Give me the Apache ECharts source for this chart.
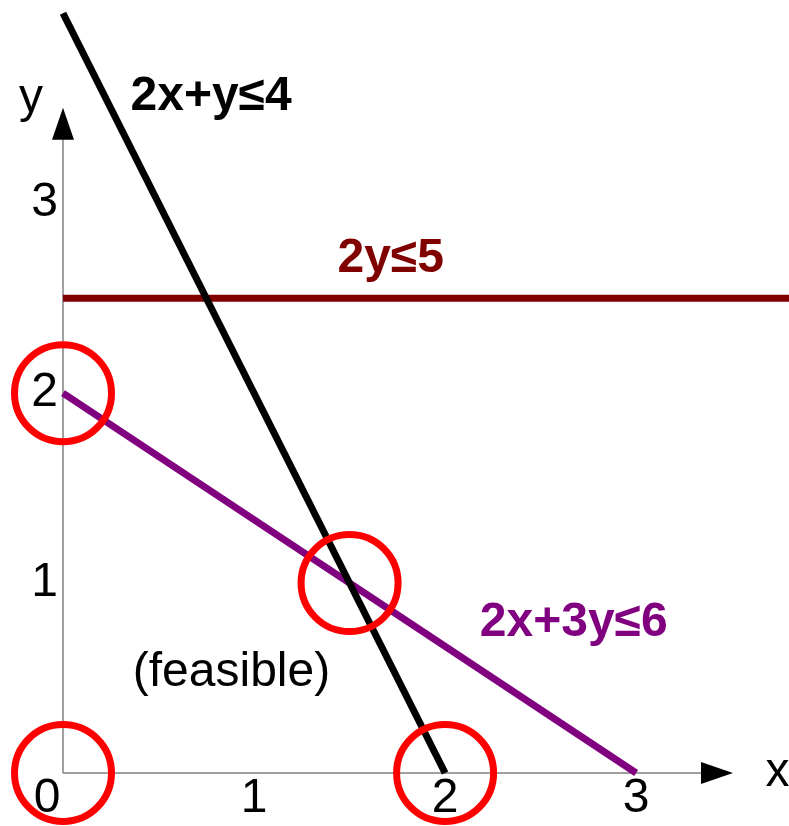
<!DOCTYPE html>
<html>
<head>
<meta charset="utf-8">
<script src="https://cdn.jsdelivr.net/npm/echarts@6/dist/echarts.min.js"></script>
<style>
html,body{margin:0;padding:0;background:#fff;}
#chart{width:789px;height:826px;}
</style>
</head>
<body>
<div id="chart"></div>
<script>
// ---- data ----
const xTickLabels = ['0', '1', '2', '3'];
const yTickLabels = ['1', '2', '3'];
const line2xPlusY = [[0, 4], [2, 0]];        // 2x + y = 4
const line2y = [[0, 2.5], [3.8, 2.5]];       // 2y = 5
const line2xPlus3y = [[0, 2], [3, 0]];       // 2x + 3y = 6
const vertices = [[0, 2], [1.5, 1], [0, 0], [2, 0]];
const constraintLabels = ['2x+y≤4', '2y≤5', '2x+3y≤6', '(feasible)'];
const axisNames = ['x', 'y'];

const FONT = 'Liberation Sans, Arial, sans-serif';
const chart = echarts.init(document.getElementById('chart'), null, {renderer: 'canvas'});

const option = {
  animation: false,
  backgroundColor: '#ffffff',
  grid: {left: 63, right: 0, top: 0, bottom: 53, containLabel: false},
  xAxis: {
    type: 'value', min: 0, max: 3.8, interval: 1,
    axisLine: {show: false}, axisTick: {show: false}, splitLine: {show: false},
    axisLabel: {
      show: true, margin: 2, fontSize: 48, fontFamily: FONT, color: '#000',
      showMaxLabel: false,
      formatter: function (v) {
        if (v === 0) return '{z|' + xTickLabels[0] + '}';
        return (v >= 1 && v <= 3) ? xTickLabels[v] : '';
      },
      rich: {z: {fontSize: 48, fontFamily: FONT, color: '#000', padding: [0, 32, 0, 0]}}
    }
  },
  yAxis: {
    type: 'value', min: 0, max: 4.07, interval: 1,
    axisLine: {show: false}, axisTick: {show: false}, splitLine: {show: false},
    axisLabel: {
      show: true, margin: 5, fontSize: 48, fontFamily: FONT, color: '#000',
      showMaxLabel: false,
      formatter: function (v) {
        return (v >= 1 && v <= 3) ? yTickLabels[v - 1] : '';
      }
    }
  },
  series: [
    // axes lines
    {type: 'line', data: [[0, 0], [3.42, 0]], symbol: 'none', clip: false, z: 1,
     lineStyle: {color: '#808080', width: 1.5, opacity: 1}},
    {type: 'line', data: [[0, 0], [0, 3.42]], symbol: 'none', clip: false, z: 1,
     lineStyle: {color: '#808080', width: 1.5, opacity: 1}},
    // arrows
    {type: 'scatter', clip: false, z: 2, symbol: 'triangle', symbolSize: [22, 32],
     itemStyle: {color: '#000', opacity: 1},
     data: [{value: [3.423, 0], symbolRotate: -90}, {value: [0, 3.418], symbolRotate: 0}]},
    // constraint lines
    {type: 'line', data: line2y, symbol: 'none', clip: false, z: 3,
     lineStyle: {color: '#800000', width: 7, opacity: 1}},
    {type: 'line', data: line2xPlus3y, symbol: 'none', clip: false, z: 4,
     lineStyle: {color: '#800080', width: 7, opacity: 1}},
    {type: 'line', data: line2xPlusY, symbol: 'none', clip: false, z: 5,
     lineStyle: {color: '#000000', width: 7, opacity: 1}},
    // vertex circles
    {type: 'scatter', data: vertices, clip: false, z: 6, symbol: 'circle', symbolSize: 97,
     itemStyle: {color: 'rgba(0,0,0,0)', borderColor: '#ff0000', borderWidth: 7, opacity: 1}},
    // text labels
    {type: 'scatter', clip: false, z: 7, symbolSize: 0.1,
     itemStyle: {color: 'rgba(0,0,0,0)', opacity: 1},
     label: {show: true, position: 'inside', fontSize: 48, fontFamily: FONT, opacity: 1,
             formatter: function (p) { return p.name; }},
     data: [
       {name: constraintLabels[0], value: [0.775, 3.56], label: {color: '#000000', fontWeight: 'bold'}},
       {name: constraintLabels[1], value: [1.715, 2.71], label: {color: '#800000', fontWeight: 'bold'}},
       {name: constraintLabels[2], value: [2.673, 0.79], label: {color: '#800080', fontWeight: 'bold'}},
       {name: constraintLabels[3], value: [0.882, 0.53], label: {color: '#000000', fontWeight: 'normal'}},
       {name: axisNames[0], value: [3.74, 0.0], label: {color: '#000000', fontWeight: 'normal'}},
       {name: axisNames[1], value: [-0.168, 3.55], label: {color: '#000000', fontWeight: 'normal'}}
     ]}
  ]
};
chart.setOption(option);
</script>
</body>
</html>
